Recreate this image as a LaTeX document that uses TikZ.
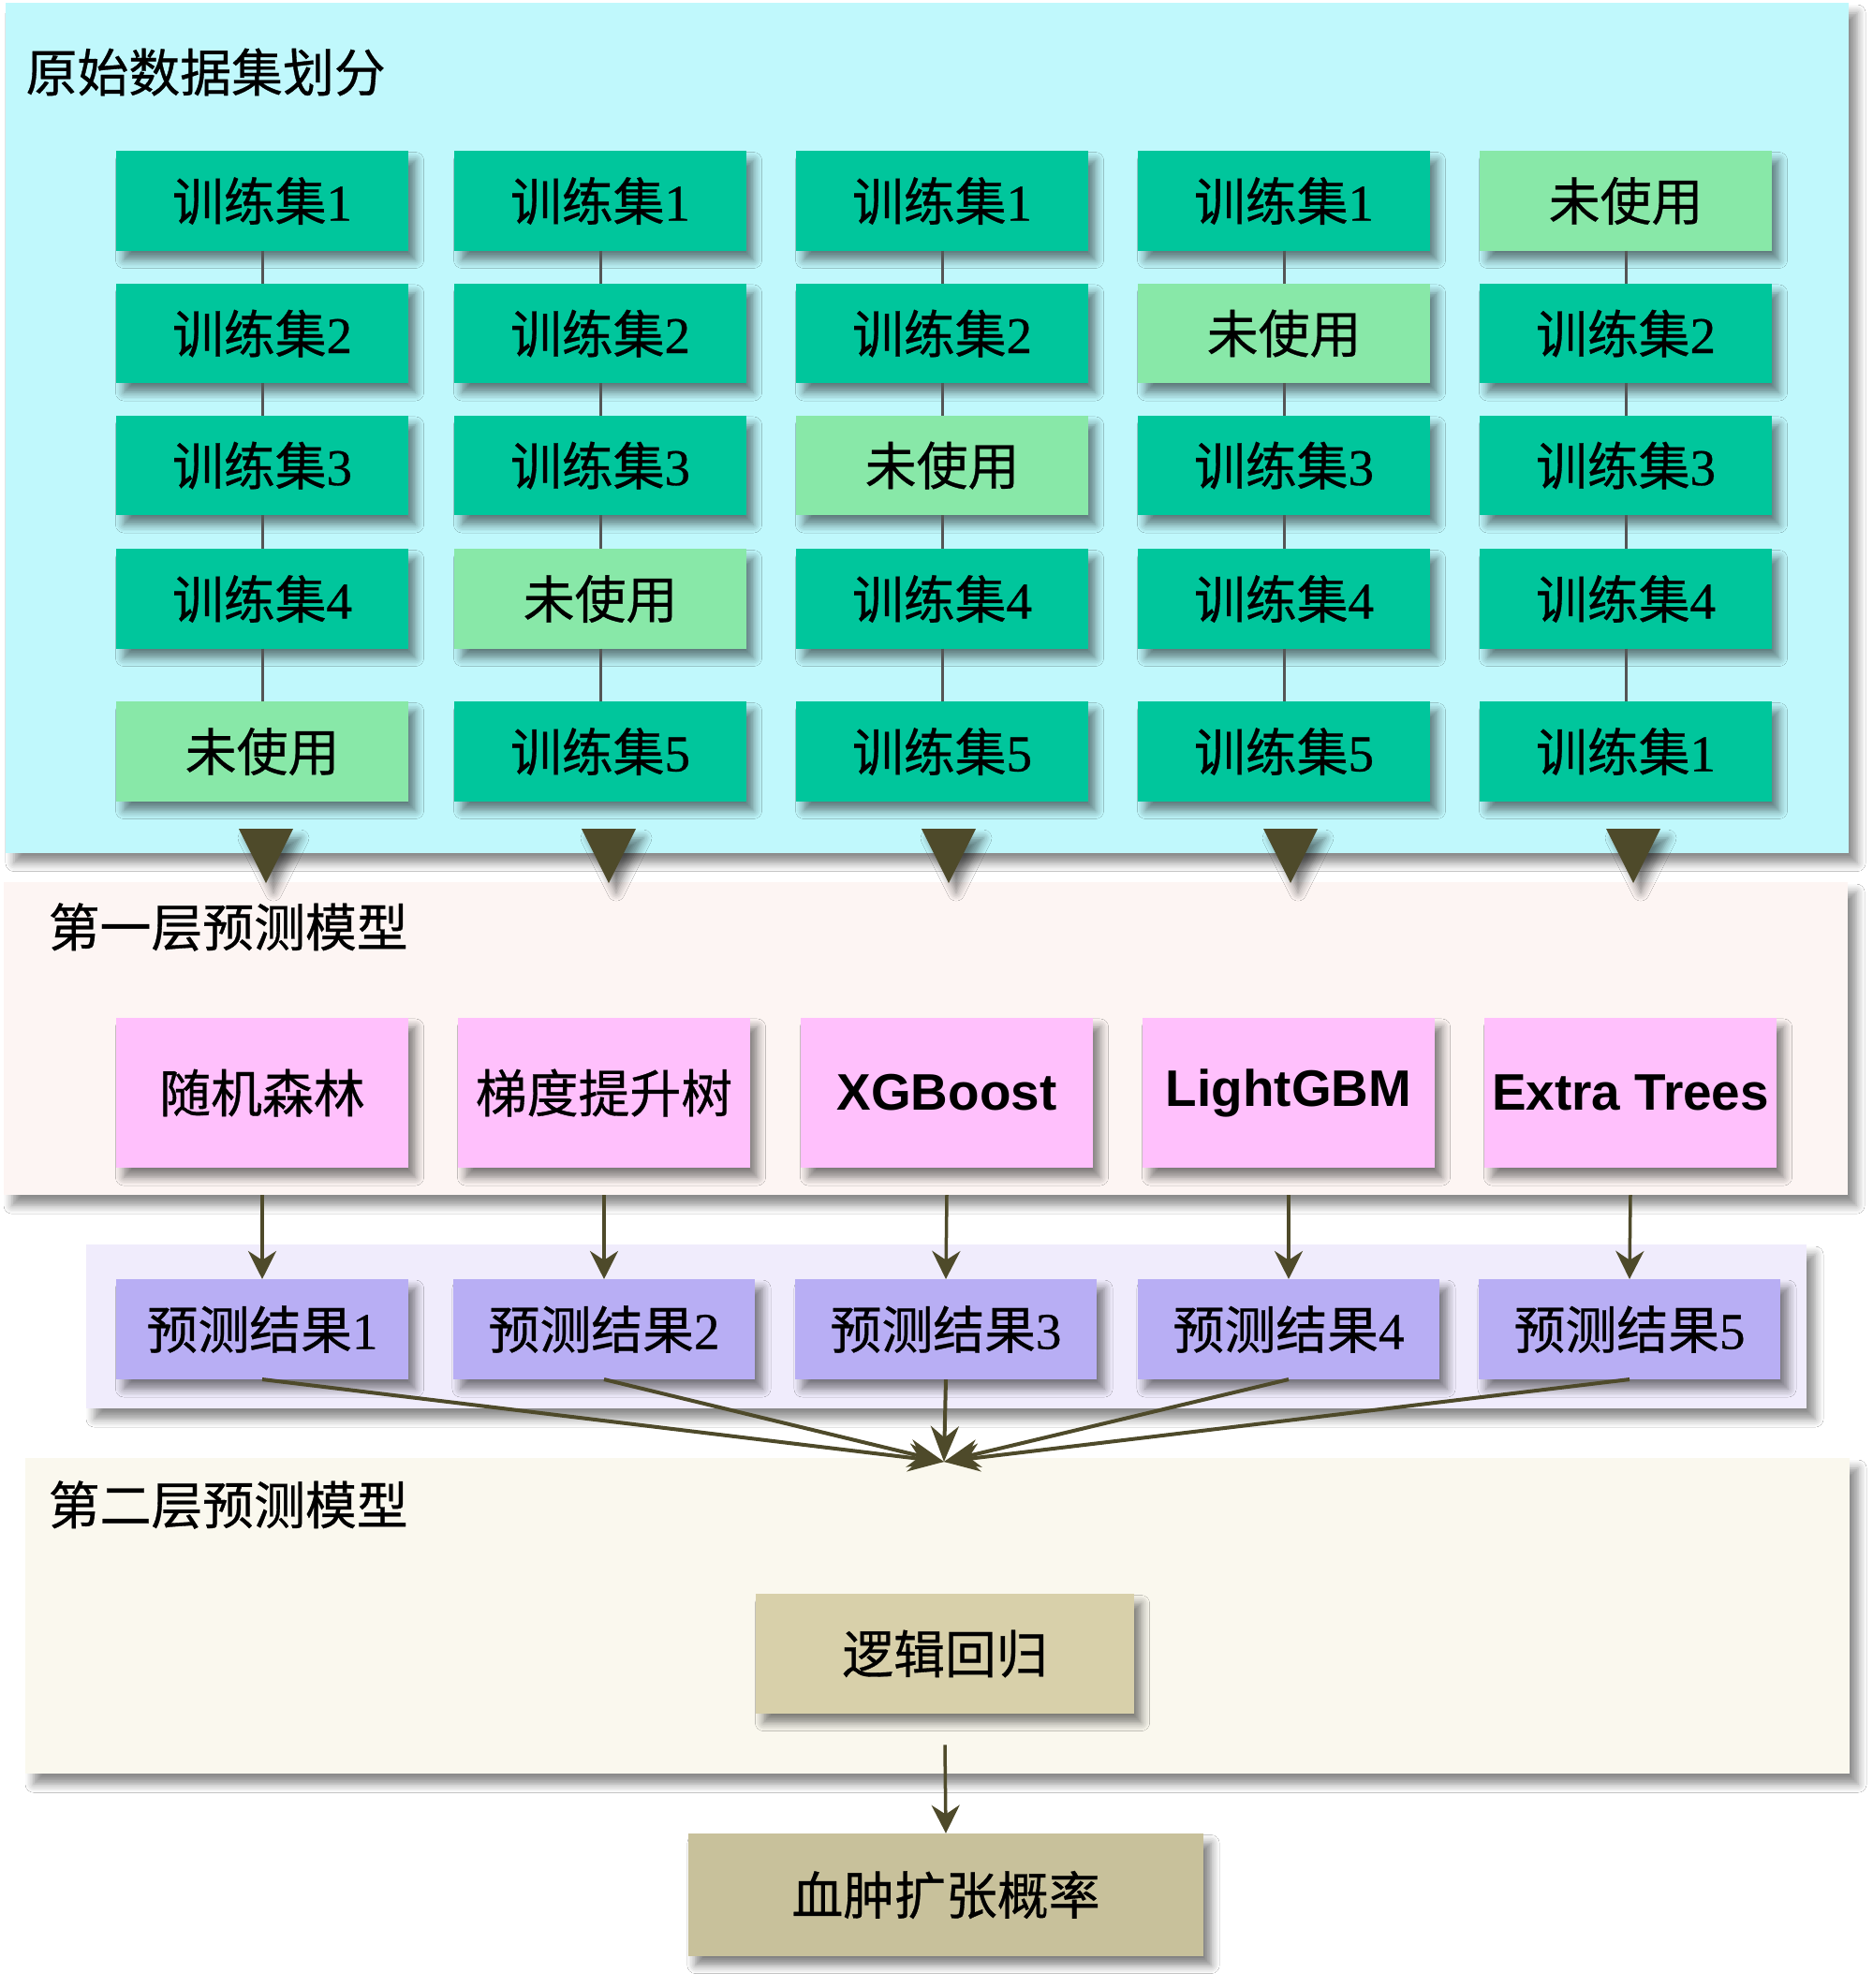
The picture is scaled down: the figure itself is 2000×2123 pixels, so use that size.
\documentclass[tikz,border=0pt]{standalone}
\usepackage{fontspec}
\setmainfont{Liberation Serif}[FakeBold=0.6,AutoFakeBold=0.6]
\newfontfamily\cjk{Noto Sans CJK SC}[FakeBold=0.6]
\newfontfamily\lsans{Liberation Sans}
\usetikzlibrary{shadows.blur,arrows.meta}
\definecolor{cyanbg}{RGB}{192,248,252}
\definecolor{dkgreen}{RGB}{0,198,156}
\definecolor{ltgreen}{RGB}{136,232,168}
\definecolor{pinkbg}{RGB}{253,245,243}
\definecolor{pinkbox}{RGB}{255,192,252}
\definecolor{lavbg}{RGB}{240,236,252}
\definecolor{lavbox}{RGB}{184,174,244}
\definecolor{creambg}{RGB}{250,248,238}
\definecolor{tanA}{RGB}{216,208,170}
\definecolor{tanB}{RGB}{200,193,155}
\definecolor{olive}{RGB}{78,74,42}
\definecolor{conn}{RGB}{85,85,85}
\newcommand\fs{\fontsize{15.6pt}{18pt}\selectfont}
\newcommand\trset[1]{{\cjk 训练集}#1}
\newcommand\unused{{\cjk 未使用}}
\tikzset{
  shad/.style={blur shadow={shadow xshift=0.08cm, shadow yshift=-0.1cm, shadow blur radius=0.09cm, shadow opacity=50, shadow blur steps=6}},
  panel/.style={draw=none, inner sep=0, outer sep=0, anchor=north west, blur shadow={shadow xshift=0.09cm, shadow yshift=-0.11cm, shadow blur radius=0.09cm, shadow opacity=45, shadow blur steps=6}},
  gbox/.style={shad, inner sep=0, outer sep=0, minimum width=3.11cm, minimum height=1.06cm, font=\fs},
  dk/.style={gbox, fill=dkgreen},
  lt/.style={gbox, fill=ltgreen},
  mbox/.style={shad, fill=pinkbox, inner sep=0, outer sep=0, minimum width=3.11cm, minimum height=1.6cm, font=\fs},
  rbox/.style={shad, fill=lavbox, inner sep=0, outer sep=0, minimum width=3.22cm, minimum height=1.07cm, font=\fs},
  ptitle/.style={anchor=west, inner sep=0, font=\fs\cjk},
  cline/.style={draw=conn, line width=0.03cm},
  arr/.style={draw=olive, line width=0.035cm, -{Stealth[length=0.3cm, width=0.3cm]}},
  carr/.style={draw=olive, line width=0.04cm, -{Stealth[length=0.38cm, width=0.3cm]}},
  tri/.style={fill=olive, shad}
}
\begin{document}
\begin{tikzpicture}[x=0.01cm,y=-0.01cm]
\useasboundingbox (0,0) rectangle (2000,2123);
\fill[white] (0,0) rectangle (2000,2123);
% panels
\node[panel, fill=cyanbg, minimum width=19.67cm, minimum height=9.07cm] (cp) at (6,3) {};
\node[panel, fill=pinkbg, minimum width=19.68cm, minimum height=3.34cm] (pp) at (4,942) {};
\node[panel, fill=lavbg, minimum width=18.36cm, minimum height=1.75cm] (lp) at (92,1329) {};
\node[panel, fill=creambg, minimum width=19.47cm, minimum height=3.37cm] (sp) at (27,1557) {};
% titles
\node[ptitle] (t1) at (27,77) {原始数据集划分};
\node[ptitle] (t2) at (51,990) {第一层预测模型};
\node[ptitle] (t3) at (51,1607) {第二层预测模型};
% column 1
\node[dk] (g11) at (280,214.5) {\trset{1}};
\node[dk] (g12) at (280,356) {\trset{2}};
\node[dk] (g13) at (280,497) {\trset{3}};
\node[dk] (g14) at (280,639.5) {\trset{4}};
\node[lt] (g15) at (280,802.5) {\unused};
% column 2
\node[dk] (g21) at (641,214.5) {\trset{1}};
\node[dk] (g22) at (641,356) {\trset{2}};
\node[dk] (g23) at (641,497) {\trset{3}};
\node[lt] (g24) at (641,639.5) {\unused};
\node[dk] (g25) at (641,802.5) {\trset{5}};
% column 3
\node[dk] (g31) at (1006,214.5) {\trset{1}};
\node[dk] (g32) at (1006,356) {\trset{2}};
\node[lt] (g33) at (1006,497) {\unused};
\node[dk] (g34) at (1006,639.5) {\trset{4}};
\node[dk] (g35) at (1006,802.5) {\trset{5}};
% column 4
\node[dk] (g41) at (1371,214.5) {\trset{1}};
\node[lt] (g42) at (1371,356) {\unused};
\node[dk] (g43) at (1371,497) {\trset{3}};
\node[dk] (g44) at (1371,639.5) {\trset{4}};
\node[dk] (g45) at (1371,802.5) {\trset{5}};
% column 5
\node[lt] (g51) at (1736,214.5) {\unused};
\node[dk] (g52) at (1736,356) {\trset{2}};
\node[dk] (g53) at (1736,497) {\trset{3}};
\node[dk] (g54) at (1736,639.5) {\trset{4}};
\node[dk] (g55) at (1736,802.5) {\trset{1}};
% connectors in grid
\foreach \c in {1,...,5}{
  \foreach \r/\s in {1/2,2/3,3/4,4/5}{
    \draw[cline] (g\c\r.south) -- (g\c\s.north);
  }
}
% triangles
\foreach \i/\x in {1/284,2/650,3/1013,4/1378,5/1744}{
  \coordinate (tr\i) at (\x,914);
  \fill[tri] (tr\i) ++(-29,-29) -- ++(58,0) -- ++(-29,58) -- cycle;
}
% first-layer models
\node[mbox] (m1) at (280,1167) {\cjk 随机森林};
\node[mbox] (m2) at (645,1167) {\cjk 梯度提升树};
\node[mbox] (m3) at (1011,1167) {\lsans\bfseries XGBoost};
\node[mbox] (m4) at (1376,1167) {\lsans\bfseries LightGBM};
\node[mbox] (m5) at (1741,1167) {\lsans\bfseries Extra Trees};
% prediction results
\node[rbox, minimum width=3.11cm] (r1) at (280,1419.5) {{\cjk 预测结果}1};
\node[rbox] (r2) at (645,1419.5) {{\cjk 预测结果}2};
\node[rbox] (r3) at (1010,1419.5) {{\cjk 预测结果}3};
\node[rbox] (r4) at (1376,1419.5) {{\cjk 预测结果}4};
\node[rbox] (r5) at (1740,1419.5) {{\cjk 预测结果}5};
\foreach \i in {1,...,5}{
  \draw[arr] (m\i |- pp.south) -- (r\i.north);
}
% convergence
\coordinate (conv) at (1008,1561);
\foreach \i in {1,...,5}{
  \draw[carr] (r\i.south) -- (conv);
}
% second layer
\node[shad, fill=tanA, inner sep=0, minimum width=4.03cm, minimum height=1.27cm, font=\fs\cjk] (lr) at (1009,1766) {逻辑回归};
\node[shad, fill=tanB, inner sep=0, minimum width=5.5cm, minimum height=1.3cm, font=\fs\cjk] (out) at (1010,2023.5) {血肿扩张概率};
\draw[arr] ([yshift=-0.33cm]lr.south) -- (out.north);
\end{tikzpicture}
\end{document}
